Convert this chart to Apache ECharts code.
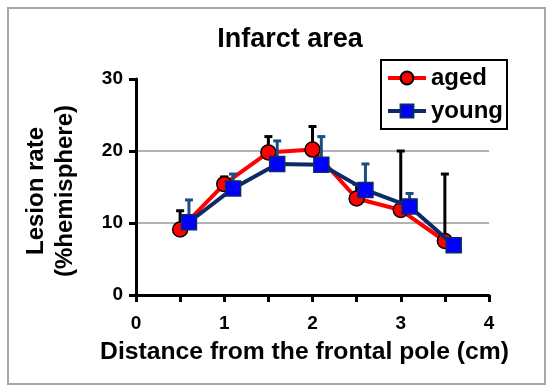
<!DOCTYPE html>
<html>
<head>
<meta charset="utf-8">
<script src="https://cdn.jsdelivr.net/npm/echarts@6/dist/echarts.min.js"></script>
<style>
  html, body { margin: 0; padding: 0; background: #fff; }
  #chart { width: 554px; height: 391px; }
</style>
</head>
<body>
<div id="chart"></div>
<script>
// distance from the frontal pole (cm); young points are nudged right by 0.1 like the original
var agedX = [0.5, 1, 1.5, 2, 2.5, 3, 3.5]
var agedMean = [9.1, 15.4, 19.8, 20.2, 13.4, 11.8, 7.5]
var agedSD = [2.6, 1.0, 2.2, 3.2, 2.0, 8.2, 9.3]

var youngX = [0.6, 1.1, 1.6, 2.1, 2.6, 3.1, 3.6]
var youngMean = [10.1, 14.8, 18.2, 18.1, 14.6, 12.3, 6.9]
var youngSD = [3.1, 2.0, 3.2, 3.9, 3.6, 1.8, 0.6]

var xTicks = [0, 1, 2, 3, 4]
var yTicks = [0, 10, 20, 30]

var FONT = 'Liberation Sans, Arial, sans-serif'

function pairs (xs, ys) {
  return xs.map(function (x, i) { return [x, ys[i]] })
}
function errData (xs, ys, sd) {
  return xs.map(function (x, i) { return [x, ys[i], ys[i] + sd[i]] })
}

// upper error bar only (excel style)
function errRender (color, w) {
  return function (params, api) {
    var p0 = api.coord([api.value(0), api.value(1)])
    var p1 = api.coord([api.value(0), api.value(2)])
    var half = 4
    return {
      type: 'group',
      children: [
        { type: 'line', shape: { x1: p0[0], y1: p0[1], x2: p1[0], y2: p1[1] }, style: { stroke: color, lineWidth: w } },
        { type: 'line', shape: { x1: p1[0] - half, y1: p1[1], x2: p1[0] + half, y2: p1[1] }, style: { stroke: color, lineWidth: w } }
      ]
    }
  }
}

var chart = echarts.init(document.getElementById('chart'))

var options = {
  backgroundColor: '#fff',
  animation: false,
  title: {
    text: 'Infarct area',
    left: 285,
    top: 21,
    textAlign: 'center',
    textStyle: { fontFamily: FONT, fontSize: 27, fontWeight: 'bold', color: '#000' }
  },
  graphic: [
    {
      type: 'rect',
      shape: { x: 8, y: 8, width: 537, height: 376 },
      style: { fill: 'none', stroke: '#a8a8a8', lineWidth: 2 },
      z: -1
    }
  ],
  legend: {
    orient: 'vertical',
    left: 381,
    top: 60,
    itemWidth: 38,
    itemHeight: 16,
    itemGap: 9,
    padding: [6, 4, 6, 5],
    borderColor: '#000',
    borderWidth: 2,
    backgroundColor: '#fff',
    lineStyle: { width: 4 },
    textStyle: { fontFamily: FONT, fontSize: 24, fontWeight: 'bold', color: '#000' },
    data: ['aged', 'young']
  },
  grid: { left: 136, right: 65, top: 79, bottom: 96 },
  xAxis: {
    type: 'value',
    min: 0,
    max: 4,
    interval: 0.5,
    name: 'Distance from the frontal pole (cm)',
    nameLocation: 'middle',
    nameGap: 45,
    nameTextStyle: { fontFamily: FONT, fontSize: 24.7, fontWeight: 'bold', color: '#000', padding: [0, 16, 0, 0] },
    axisLine: { show: true, lineStyle: { color: '#000', width: 3 } },
    axisTick: { show: true, length: 7, lineStyle: { color: '#000', width: 3 } },
    splitLine: { show: false },
    axisLabel: {
      margin: 19,
      fontFamily: FONT,
      fontSize: 19,
      fontWeight: 'bold',
      color: '#000',
      formatter: function (v) { return xTicks.indexOf(v) >= 0 ? String(v) : '' }
    }
  },
  yAxis: {
    type: 'value',
    min: yTicks[0],
    max: yTicks[yTicks.length - 1],
    interval: 10,
    name: 'Lesion rate\n(%hemisphere)',
    nameLocation: 'middle',
    nameRotate: 90,
    nameGap: 56,
    nameTextStyle: { fontFamily: FONT, fontSize: 24, fontWeight: 'bold', color: '#000', lineHeight: 29, padding: [0, 8, 0, 0] },
    axisLine: { show: true, lineStyle: { color: '#000', width: 3 } },
    axisTick: { show: true, length: 7, lineStyle: { color: '#000', width: 3 } },
    splitLine: { show: true, showMinLine: false, showMaxLine: false, lineStyle: { color: '#999', width: 1.5 } },
    axisLabel: { margin: 13, fontFamily: FONT, fontSize: 19, fontWeight: 'bold', color: '#000' }
  },
  series: [
    {
      name: 'agedErr',
      type: 'custom',
      renderItem: errRender('#000', 3),
      data: errData(agedX, agedMean, agedSD),
      z: 2
    },
    {
      name: 'aged',
      type: 'line',
      data: pairs(agedX, agedMean),
      symbol: 'circle',
      symbolSize: 15,
      lineStyle: { color: '#ff0000', width: 4 },
      itemStyle: { color: '#ff0000', borderColor: '#000', borderWidth: 1.5 },
      z: 3
    },
    {
      name: 'youngErr',
      type: 'custom',
      renderItem: errRender('#1b4f82', 3),
      data: errData(youngX, youngMean, youngSD),
      z: 4
    },
    {
      name: 'young',
      type: 'line',
      data: pairs(youngX, youngMean),
      symbol: 'rect',
      symbolSize: 15,
      lineStyle: { color: '#0c2a66', width: 4 },
      itemStyle: { color: '#0000ff', borderColor: '#0c2a66', borderWidth: 1.5 },
      z: 5
    }
  ]
}

chart.setOption(options)
</script>
</body>
</html>
